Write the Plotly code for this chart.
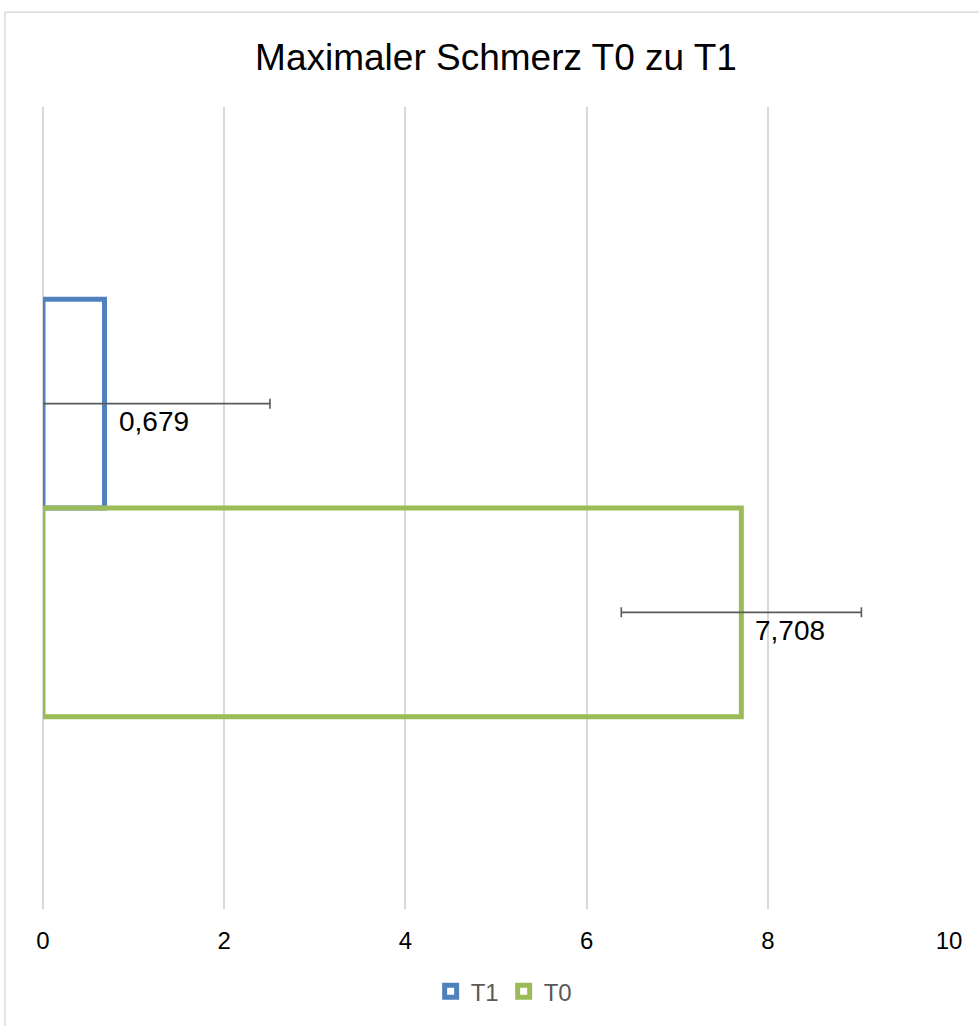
import plotly.graph_objects as go

# ---- data ----
series_names = ["T1", "T0"]
series_values = [0.679, 7.708]
series_errors = [1.826, 1.325]
series_labels = ["0,679", "7,708"]
series_colors = ["#4F81BD", "#9BBB59"]
x_tick_values = [0, 2, 4, 6, 8, 10]

FONT = "Liberation Sans, Arial, sans-serif"

fig = go.Figure()
n = len(series_names)
positions = [n - 1 - i for i in range(n)]

for i, name in enumerate(series_names):
    fig.add_trace(go.Bar(
        name=name,
        x=[series_values[i]],
        y=[positions[i]],
        orientation="h",
        width=1,
        marker=dict(color="rgba(0,0,0,0)", line=dict(color=series_colors[i], width=5)),
        error_x=dict(type="data", array=[series_errors[i]], color="#595959",
                     thickness=1.6, width=5),
        hoverinfo="skip",
    ))
    fig.add_annotation(
        x=series_values[i], y=positions[i], xref="x", yref="y",
        text=series_labels[i], showarrow=False,
        xanchor="left", yanchor="middle", xshift=12, yshift=-18,
        font=dict(family=FONT, size=28, color="#000000"),
    )

# chart outer border (top & left visible)
fig.add_shape(type="line", xref="paper", yref="paper",
              x0=-0.042, x1=1.2, y0=1.118, y1=1.118,
              line=dict(color="#d9d9d9", width=1.5))
fig.add_shape(type="line", xref="paper", yref="paper",
              x0=-0.042, x1=-0.042, y0=-0.2, y1=1.118,
              line=dict(color="#d9d9d9", width=1.5))

fig.update_layout(
    width=979, height=1026,
    margin=dict(l=43, r=30, t=107, b=114),
    paper_bgcolor="white", plot_bgcolor="white",
    barmode="overlay",
    title=dict(text="Maximaler Schmerz T0 zu T1", x=0.5, xref="paper",
               y=1 - 57 / 1026, yanchor="middle",
               font=dict(family=FONT, size=37, color="#000000")),
    xaxis=dict(range=[0, 10], tickvals=x_tick_values, showgrid=True,
               gridcolor="#d9d9d9", gridwidth=1.5,
               zeroline=True, zerolinecolor="#d9d9d9", zerolinewidth=1.5,
               showline=False, ticks="outside", ticklen=10, tickcolor="rgba(0,0,0,0)",
               tickfont=dict(family=FONT, size=24, color="#000000")),
    yaxis=dict(range=[0.5 - 1.921, 0.5 + 1.921], showticklabels=False,
               showgrid=False, zeroline=False, showline=False),
    showlegend=True,
    legend=dict(orientation="h", x=0.509, xanchor="center", y=-0.103, yanchor="middle",
                font=dict(family=FONT, size=24, color="#595959"),
                itemwidth=30, bgcolor="rgba(0,0,0,0)"),
)

fig.write_html("out.html", config={"displayModeBar": False},
               post_script="document.body.style.margin='0';document.body.style.overflow='hidden';")
